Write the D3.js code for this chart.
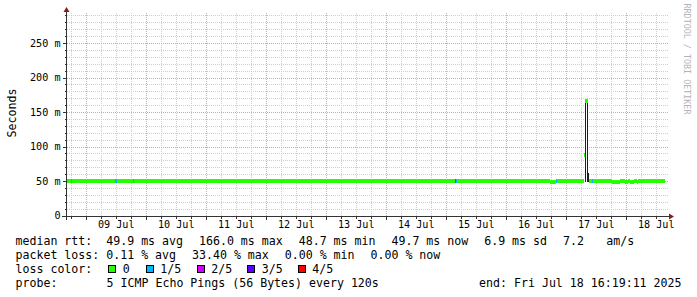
<!DOCTYPE html>
<html><head><meta charset="utf-8">
<script src="https://cdn.jsdelivr.net/npm/d3@7"></script>
<style>
html,body{margin:0;padding:0;background:#fff;}
svg{display:block;}
text{font-family:"DejaVu Sans Mono",monospace;white-space:pre;}
</style></head>
<body>
<script>
// ---------- data ----------
const timeStart = "2025-07-08T16:19:11Z";
const timeEnd   = "2025-07-18T16:19:11Z";
const yTickValues = [0, 50, 100, 150, 200, 250];          // ms
const yTickLabels = ["0", "50 m", "100 m", "150 m", "200 m", "250 m"];
const dayDates  = ["2025-07-09","2025-07-10","2025-07-11","2025-07-12","2025-07-13","2025-07-14","2025-07-15","2025-07-16","2025-07-17","2025-07-18"];
const dayLabels = ["09 Jul","10 Jul","11 Jul","12 Jul","13 Jul","14 Jul","15 Jul","16 Jul","17 Jul","18 Jul"];
const lossLabels = ["0", "1/5", "2/5", "3/5", "4/5"];
const lossColors = ["#26ff00", "#00b8ff", "#d000ff", "#5a00ff", "#ff0000"];
// median segments: [start, end, median ms, loss index]
const medianSegments = [
  ["2025-07-08T16:19Z","2025-07-16T17:31Z",49.9,0],
  ["2025-07-16T17:31Z","2025-07-16T19:55Z",48.5,0],
  ["2025-07-16T19:55Z","2025-07-17T07:07Z",49.9,0],
  ["2025-07-17T07:07Z","2025-07-17T07:31Z",88.0,0],
  ["2025-07-17T07:31Z","2025-07-17T08:43Z",166.0,0],
  ["2025-07-17T09:07Z","2025-07-17T18:19Z",49.9,0],
  ["2025-07-17T18:19Z","2025-07-17T21:31Z",48.5,0],
  ["2025-07-17T21:31Z","2025-07-17T23:31Z",49.9,0],
  ["2025-07-17T23:31Z","2025-07-18T00:43Z",48.5,0],
  ["2025-07-18T00:43Z","2025-07-18T01:31Z",49.9,0],
  ["2025-07-18T01:31Z","2025-07-18T03:07Z",48.5,0],
  ["2025-07-18T03:07Z","2025-07-18T04:19Z",49.9,0],
  ["2025-07-18T04:19Z","2025-07-18T04:43Z",48.5,0],
  ["2025-07-18T04:43Z","2025-07-18T15:43Z",49.9,0],
  // loss-coloured bins
  ["2025-07-08T17:55Z","2025-07-08T18:19Z",49.9,1],
  ["2025-07-09T11:31Z","2025-07-09T12:19Z",49.9,1],
  ["2025-07-09T18:43Z","2025-07-09T19:07Z",49.9,1],
  ["2025-07-15T03:31Z","2025-07-15T03:55Z",49.9,2],
  ["2025-07-15T03:55Z","2025-07-15T04:19Z",49.9,1],
  ["2025-07-16T19:55Z","2025-07-16T20:19Z",49.9,1],
  ["2025-07-17T10:19Z","2025-07-17T10:43Z",49.9,1]
];
// smoke (ping spread): [start, end, low ms, high ms]
const smokeBins = [
  ["2025-07-17T07:31Z","2025-07-17T07:55Z",49.0,166.0],
  ["2025-07-17T08:19Z","2025-07-17T08:43Z",49.0,167.0],
  ["2025-07-17T08:19Z","2025-07-17T09:07Z",49.0,61.0]
];
const legendRow1 = ["median rtt:  49.9 ms avg", "166.0 ms max", "48.7 ms min", "49.7 ms now", "6.9 ms sd", "7.2", "am/s"];
const legendRow2 = ["packet loss: 0.11 % avg", "33.40 % max", "0.00 % min", "0.00 % now"];
const probeText = "5 ICMP Echo Pings (56 Bytes) every 120s";
const endText = "end: Fri Jul 18 16:19:11 2025";
const unitLabel = "Seconds";
const watermark = "RRDTOOL / TOBI OETIKER";

// ---------- layout ----------
const W = 697, H = 297;
const L = 67, R = 667, T = 13, B = 215.5;
const svg = d3.select("body").append("svg").attr("width", W).attr("height", H);
svg.append("rect").attr("width", W).attr("height", H).attr("fill", "#fff");

const x = d3.scaleUtc().domain([new Date(timeStart), new Date(timeEnd)]).range([L, R]);
const y = d3.scaleLinear().domain([0, 293.6]).range([B, T]);

const minorCol = "#cdcdcd", majorCol = "#e2a0a0";
const g = svg.append("g").attr("shape-rendering", "crispEdges");

// minor horizontal grid (10 ms)
const minorY = d3.range(10, 293, 10).filter(v => v % 50 !== 0);
g.selectAll(".hm").data(minorY).join("line")
  .attr("x1", L).attr("x2", R + 1).attr("y1", d => Math.round(y(d)) + 0.5).attr("y2", d => Math.round(y(d)) + 0.5)
  .attr("stroke", minorCol).attr("stroke-dasharray", "1,1");
// minor vertical grid (6 h)
const minorX = d3.utcHour.every(6).range(x.domain()[0], x.domain()[1]).filter(d => d.getUTCHours() !== 0);
g.selectAll(".vm").data(minorX).join("line")
  .attr("x1", d => Math.round(x(d)) + 0.5).attr("x2", d => Math.round(x(d)) + 0.5).attr("y1", T).attr("y2", B)
  .attr("stroke", minorCol).attr("stroke-dasharray", "1,1");
// major grid
const majorX = d3.utcDay.range(x.domain()[0], x.domain()[1]);
g.selectAll(".vM").data(majorX).join("line")
  .attr("x1", d => Math.round(x(d)) + 0.5).attr("x2", d => Math.round(x(d)) + 0.5).attr("y1", T).attr("y2", B)
  .attr("stroke", majorCol).attr("stroke-dasharray", "1,1");
g.selectAll(".hM").data(yTickValues.filter(v => v > 0)).join("line")
  .attr("x1", L).attr("x2", R + 1).attr("y1", d => Math.round(y(d)) + 0.5).attr("y2", d => Math.round(y(d)) + 0.5)
  .attr("stroke", majorCol).attr("stroke-dasharray", "1,1");

// smoke
svg.append("g").attr("shape-rendering", "crispEdges").selectAll("rect").data(smokeBins).join("rect")
  .attr("x", d => Math.round(x(new Date(d[0])))).attr("width", d => Math.max(1, Math.round(x(new Date(d[1])) - x(new Date(d[0])))))
  .attr("y", d => y(d[3])).attr("height", d => y(d[2]) - y(d[3]))
  .attr("fill", "#1e1e1e");

// median band
const band = 4;
svg.append("g").attr("shape-rendering", "crispEdges").selectAll("rect").data(medianSegments).join("rect")
  .attr("x", d => x(new Date(d[0]))).attr("width", d => Math.max(1, x(new Date(d[1])) - x(new Date(d[0]))))
  .attr("y", d => y(d[2]) - band / 2).attr("height", band)
  .attr("fill", d => lossColors[d[3]]);

// axes
const axisCol = "#333", arrowCol = "#8c1c1c";
const ax = svg.append("g").attr("shape-rendering", "crispEdges");
ax.append("line").attr("x1", 62).attr("x2", R + 2).attr("y1", Math.round(B) + 0.5).attr("y2", Math.round(B) + 0.5).attr("stroke", axisCol);
ax.append("line").attr("x1", L - 0.5).attr("x2", L - 0.5).attr("y1", B + 4).attr("y2", T - 2).attr("stroke", axisCol);
ax.selectAll(".ty").data(yTickValues).join("line")
  .attr("x1", L - 4).attr("x2", L).attr("y1", d => Math.round(y(d)) + 0.5).attr("y2", d => Math.round(y(d)) + 0.5).attr("stroke", axisCol);
ax.selectAll(".tym").data(minorY).join("line")
  .attr("x1", L - 2).attr("x2", L).attr("y1", d => Math.round(y(d)) + 0.5).attr("y2", d => Math.round(y(d)) + 0.5).attr("stroke", axisCol);
ax.selectAll(".tx").data(majorX).join("line")
  .attr("x1", d => Math.round(x(d)) + 0.5).attr("x2", d => Math.round(x(d)) + 0.5).attr("y1", B).attr("y2", B + 4).attr("stroke", axisCol);
ax.selectAll(".txm").data(minorX).join("line")
  .attr("x1", d => Math.round(x(d)) + 0.5).attr("x2", d => Math.round(x(d)) + 0.5).attr("y1", B).attr("y2", B + 3).attr("stroke", axisCol);
// arrows
svg.append("path").attr("d", `M${L - 3.5},${T - 1} L${L + 2.5},${T - 1} L${L - 0.5},${T - 6} Z`).attr("fill", arrowCol);
svg.append("path").attr("d", `M${R + 2},${Math.round(B) - 2.5} L${R + 2},${Math.round(B) + 3.5} L${R + 7},${Math.round(B) + 0.5} Z`).attr("fill", arrowCol);

// tick labels
const axisFont = 10.15;
svg.append("g").selectAll("text").data(yTickValues).join("text")
  .attr("x", 60.5).attr("y", d => y(d) + 3.6).attr("text-anchor", "end")
  .attr("font-size", axisFont).attr("fill", "#000").text((d, i) => yTickLabels[i]);
svg.append("g").selectAll("text").data(dayDates).join("text")
  .attr("x", d => x(d3.utcHour.offset(new Date(d + "T00:00:00Z"), 12))).attr("y", 228.3).attr("text-anchor", "middle")
  .attr("font-size", axisFont).attr("fill", "#000").text((d, i) => dayLabels[i]);

// unit label
svg.append("text").attr("transform", "translate(16,113) rotate(-90)").attr("text-anchor", "middle")
  .attr("font-size", 11.6).attr("fill", "#000").text(unitLabel);
// watermark
svg.append("text").attr("transform", "translate(684,59) rotate(90)").attr("text-anchor", "middle")
  .attr("font-size", 8.4).attr("fill", "#b4b4b4").text(watermark);

// legend
const lf = 11.6, cw = 6.98, gap = 2 * cw + 2;
const rowY = [245, 259, 273, 287];
function legendRow(items, yy, fixed) {
  let xx = 15.5;
  items.forEach((t, i) => {
    if (fixed && fixed[i] != null) xx = fixed[i];
    svg.append("text").attr("x", xx).attr("y", yy).attr("font-size", lf).text(t);
    xx += t.length * cw + gap;
  });
}
legendRow(legendRow1, rowY[0], {6: 606.2});
legendRow(legendRow2, rowY[1]);
svg.append("text").attr("x", 15.5).attr("y", rowY[2]).attr("font-size", lf).text("loss color:");
const sqX = [108.5, 146, 197, 247.5, 298];
lossLabels.forEach((lab, i) => {
  svg.append("rect").attr("x", sqX[i]).attr("y", 265.5).attr("width", 7).attr("height", 7)
    .attr("fill", lossColors[i]).attr("stroke", "#000").attr("shape-rendering", "crispEdges");
  svg.append("text").attr("x", sqX[i] + 14.3).attr("y", rowY[2]).attr("font-size", lf).text(lab);
});
svg.append("text").attr("x", 15.5).attr("y", rowY[3]).attr("font-size", lf).text("probe:");
svg.append("text").attr("x", 106.6).attr("y", rowY[3]).attr("font-size", lf).text(probeText);
svg.append("text").attr("x", 681.5).attr("y", rowY[3]).attr("text-anchor", "end").attr("font-size", lf).text(endText);
</script>
</body></html>
